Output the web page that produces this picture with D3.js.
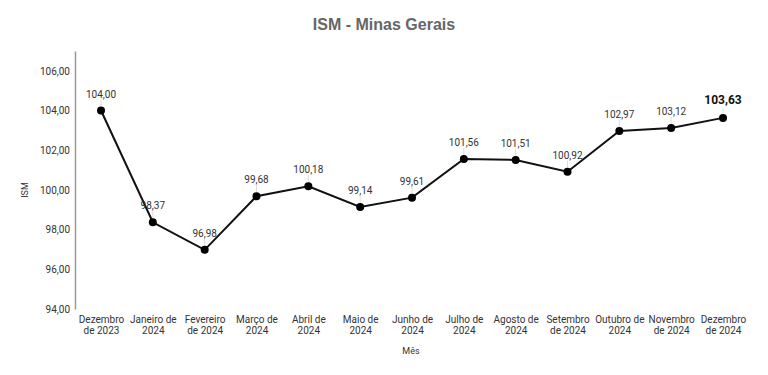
<!DOCTYPE html>
<meta charset="utf-8">
<script src="https://d3js.org/d3.v7.min.js"></script>
<style>
body { margin: 0; background: #fff; }
.axis text { font-family: Roboto, "Liberation Sans", sans-serif; font-size: 10px; fill: #333; }
.y.axis path { stroke: #999; stroke-width: 1.5px; }
.axis line { display: none; }
.x.axis path { display: none; }
.point-label { font-family: Roboto, "Liberation Sans", sans-serif; font-size: 10px; fill: #333; }
</style>
<body></body>
<script>

// months on the x axis (two-line labels)
var months = [
  ["Dezembro", "de 2023"], ["Janeiro de", "2024"], ["Fevereiro", "de 2024"],
  ["Março de", "2024"], ["Abril de", "2024"], ["Maio de", "2024"],
  ["Junho de", "2024"], ["Julho de", "2024"], ["Agosto de", "2024"],
  ["Setembro", "de 2024"], ["Outubro de", "2024"], ["Novembro", "de 2024"],
  ["Dezembro", "de 2024"]
];
var ismValues = [104.00, 98.37, 96.98, 99.68, 100.18, 99.14, 99.61, 101.56, 101.51, 100.92, 102.97, 103.12, 103.63];
var yTicks = [94, 96, 98, 100, 102, 104, 106];

var width = 768, height = 375;
var margin = {top: 52, right: 45, bottom: 65, left: 75};

var svg = d3.select("body").append("svg")
    .attr("width", width)
    .attr("height", height);

var fmt = function(v) { return v.toFixed(2).replace(".", ","); };

var xScale = d3.scalePoint()
  .domain(d3.range(months.length))
  .range([101, 723]);

var yScale = d3.scaleLinear()
  .domain([94, 107])
  .range([309, 51]);

// title
svg.append("text")
  .attr("x", 384)
  .attr("y", 30)
  .attr("text-anchor", "middle")
  .style("font-family", "'Liberation Sans', Arial, sans-serif")
  .style("font-weight", "bold")
  .style("font-size", "16px")
  .style("fill", "#666")
  .text("ISM - Minas Gerais");

// y axis
var yAxis = d3.axisLeft(yScale)
  .tickValues(yTicks)
  .tickSize(0)
  .tickSizeOuter(0)
  .tickPadding(5)
  .tickFormat(fmt);

svg.append("g")
  .attr("class", "y axis")
  .attr("transform", "translate(75,0)")
  .call(yAxis);

// x axis labels
var xAxis = d3.axisBottom(xScale)
  .tickSize(0)
  .tickFormat("");

var xg = svg.append("g")
  .attr("class", "x axis")
  .attr("transform", "translate(0,309)")
  .call(xAxis);

xg.selectAll(".tick text").each(function(i) {
  var t = d3.select(this).attr("y", 0).attr("dy", null);
  t.selectAll("tspan").data(months[i]).enter().append("tspan")
    .attr("x", 0)
    .attr("y", function(d, j) { return 14 + j * 10.5; })
    .text(function(d) { return d; });
});

// axis titles
svg.append("text")
  .attr("transform", "translate(28,190) rotate(-90)")
  .attr("text-anchor", "middle")
  .style("font-family", "Roboto, sans-serif")
  .style("font-size", "9px")
  .style("fill", "#333")
  .text("ISM");

svg.append("text")
  .attr("x", 411)
  .attr("y", 354)
  .attr("text-anchor", "middle")
  .style("font-family", "Roboto, sans-serif")
  .style("font-size", "9px")
  .style("fill", "#333")
  .text("Mês");

// line
var line = d3.line()
  .x(function(d, i) { return xScale(i); })
  .y(function(d) { return yScale(d); });

svg.append("path")
  .datum(ismValues)
  .attr("fill", "none")
  .attr("stroke", "#111")
  .attr("stroke-width", 2)
  .attr("d", line);

var last = ismValues.length - 1;

// leader lines
svg.selectAll(".leader")
  .data(ismValues).enter().append("line")
  .attr("class", "leader")
  .attr("x1", function(d, i) { return xScale(i); })
  .attr("x2", function(d, i) { return xScale(i); })
  .attr("y1", function(d) { return yScale(d) - 4; })
  .attr("y2", function(d) { return yScale(d) - 11; })
  .attr("stroke", "#ddd")
  .attr("stroke-width", 1);

// points
svg.selectAll(".dot")
  .data(ismValues).enter().append("circle")
  .attr("class", "dot")
  .attr("cx", function(d, i) { return xScale(i); })
  .attr("cy", function(d) { return yScale(d); })
  .attr("r", 4)
  .attr("fill", "#000");

// value labels
svg.selectAll(".point-label")
  .data(ismValues).enter().append("text")
  .attr("class", "point-label")
  .attr("x", function(d, i) { return xScale(i); })
  .attr("y", function(d, i) { return yScale(d) - (i == last ? 14 : 13); })
  .attr("text-anchor", "middle")
  .style("font-weight", function(d, i) { return i == last ? "bold" : "normal"; })
  .style("font-size", function(d, i) { return i == last ? "12px" : "10px"; })
  .style("fill", function(d, i) { return i == last ? "#111" : "#333"; })
  .text(fmt);

</script>
